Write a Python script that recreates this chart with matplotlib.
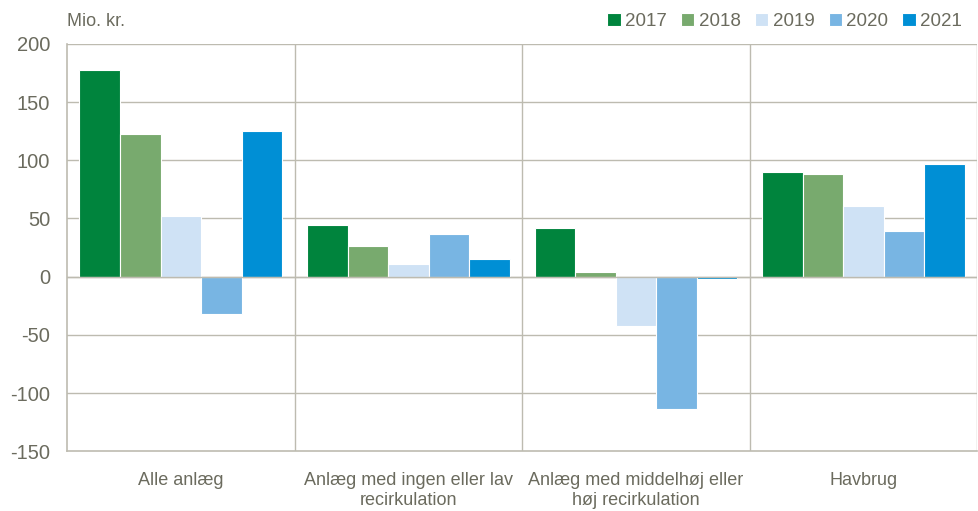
import numpy as np
import matplotlib.pyplot as plt

plt.rcParams["font.family"] = ["Liberation Sans", "DejaVu Sans"]
plt.rcParams["axes.unicode_minus"] = False

categories = ["Alle anlæg", "Anlæg med ingen eller lav\nrecirkulation",
              "Anlæg med middelhøj eller\nhøj recirkulation", "Havbrug"]
years = ["2017", "2018", "2019", "2020", "2021"]
v2017 = [178, 44, 42, 90]
v2018 = [123, 26, 4, 88]
v2019 = [52, 11, -42, 61]
v2020 = [-32, 37, -114, 39]
v2021 = [125, 15, -2, 97]
series = [v2017, v2018, v2019, v2020, v2021]
colors = ["#00843D", "#78AA6E", "#CFE2F5", "#78B5E3", "#008FD5"]

txt = "#6B6B5E"
grid = "#BDBBB0"

fig = plt.figure(figsize=(9.79, 5.11), dpi=100)
ax = fig.add_axes([0.0684, 0.117, 0.93, 0.797])

x = np.arange(len(categories))
w = 0.178
for i, (vals, c, y) in enumerate(zip(series, colors, years)):
    ax.bar(x + (i - 2) * w, vals, w, color=c, edgecolor="white", lw=0.8,
           label=y, zorder=3)

ax.set_xlim(-0.5, 3.5)
ax.set_ylim(-150, 200)
ax.set_yticks(range(-150, 201, 50))
for yv in range(-100, 201, 50):
    ax.axhline(yv, color=grid, lw=1, zorder=1)
for xv in [0.5, 1.5, 2.5, 3.5]:
    ax.axvline(xv, color=grid, lw=1, zorder=1)
ax.axhline(0, color=grid, lw=1, zorder=4)

for s in ["top", "right"]:
    ax.spines[s].set_visible(False)
for s in ["left", "bottom"]:
    ax.spines[s].set_color(grid)
    ax.spines[s].set_linewidth(1.2)

ax.set_xticks(x)
ax.set_xticklabels(categories, fontsize=13, color=txt, linespacing=1.25)
ax.tick_params(axis="x", length=0, pad=15)
ax.tick_params(axis="y", length=0, pad=12, labelsize=14.5, labelcolor=txt)

fig.text(0.0684, 0.957, "Mio. kr.", fontsize=13, color=txt, va="center")
fig.legend(loc="center right", bbox_to_anchor=(1.0, 0.958), ncol=5,
           frameon=False, fontsize=13.5, labelcolor=txt, handlelength=0.7,
           handleheight=0.7, handletextpad=0.25, columnspacing=0.75)

fig.savefig("out.png", dpi=100)
